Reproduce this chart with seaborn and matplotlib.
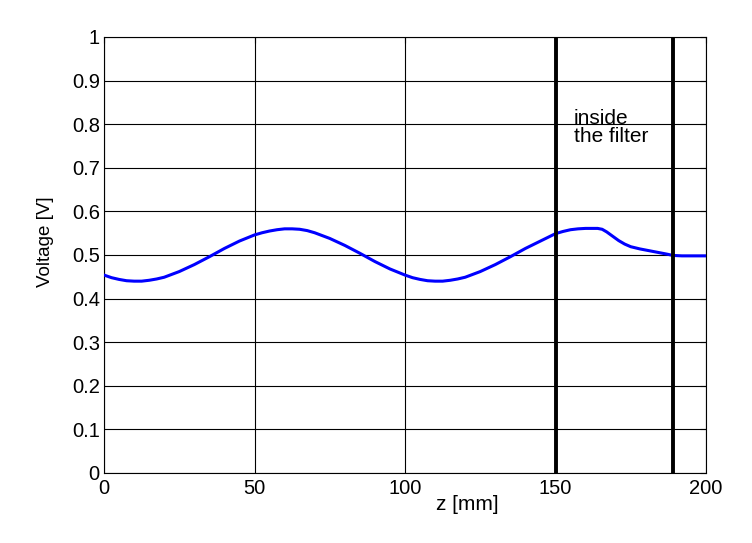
import matplotlib
matplotlib.use("Agg")
import matplotlib.pyplot as plt
import seaborn as sns
import pandas as pd

z_mm = [0, 2.5, 5, 7.5, 10, 12.5, 15, 17.5, 20, 25, 30, 35, 40, 45, 50, 52.5, 55, 57.5,
        60, 62.5, 65, 67.5, 70, 75, 80, 85, 90, 95, 100, 102.5, 105, 107.5, 110, 112.5,
        115, 117.5, 120, 125, 130, 135, 140, 145, 150, 152.5, 155, 157.5, 160, 162, 164,
        165.5, 167, 169, 171, 173, 175, 178, 181, 184, 187, 189, 192, 196, 200]
voltage = [0.454, 0.448, 0.444, 0.441, 0.440, 0.440, 0.442, 0.445, 0.449, 0.462, 0.478,
           0.496, 0.515, 0.532, 0.546, 0.551, 0.555, 0.558, 0.560, 0.560, 0.559, 0.556,
           0.551, 0.538, 0.522, 0.504, 0.485, 0.468, 0.454, 0.448, 0.444, 0.441, 0.440,
           0.440, 0.442, 0.445, 0.449, 0.462, 0.478, 0.496, 0.515, 0.532, 0.549, 0.554,
           0.558, 0.560, 0.561, 0.561, 0.561, 0.559, 0.553, 0.543, 0.533, 0.525, 0.519,
           0.514, 0.510, 0.506, 0.502, 0.499, 0.498, 0.498, 0.498]
filter_edges = [150, 189]
xticks = [0, 50, 100, 150, 200]
yticks = [0, 0.1, 0.2, 0.3, 0.4, 0.5, 0.6, 0.7, 0.8, 0.9, 1]
ytick_labels = ["0", "0.1", "0.2", "0.3", "0.4", "0.5", "0.6", "0.7", "0.8", "0.9", "1"]

sns.set_style("white")
plt.rcParams["font.family"] = ["Liberation Sans", "DejaVu Sans"]
plt.rcParams["text.color"] = "black"

fig = plt.figure(figsize=(7.52, 5.43), dpi=100)
ax = fig.add_axes([104 / 752, 70 / 543, 602 / 752, 436 / 543])

df = pd.DataFrame({"z": z_mm, "v": voltage})
sns.lineplot(data=df, x="z", y="v", ax=ax, color="#0000ff", linewidth=2.2, zorder=3)

for xe in filter_edges:
    ax.axvline(xe, color="black", linewidth=2.8, zorder=4)

ax.set_xlim(0, 200)
ax.set_ylim(0, 1)
ax.set_xticks(xticks)
ax.set_xticklabels([str(t) for t in xticks])
ax.set_yticks(yticks)
ax.set_yticklabels(ytick_labels)
ax.grid(True, color="black", linewidth=0.8, linestyle="-")
ax.set_axisbelow(True)
for s in ax.spines.values():
    s.set_color("black")
    s.set_linewidth(0.8)
ax.tick_params(direction="in", length=4, width=0.8, colors="black", labelsize=14.5,
               top=True, right=True, pad=3)
ax.tick_params(axis="x", pad=4)

ax.set_xlabel("z [mm]", fontsize=15, color="black")
ax.set_ylabel("Voltage [V]", fontsize=13.5, color="black")
ax.xaxis.set_label_coords(0.603, -0.05)
ax.yaxis.set_label_coords(-0.083, 0.53)

ax.text(156, 0.835, "inside\nthe filter", fontsize=15, ha="left", va="top",
        linespacing=0.95, zorder=5, color="black")

fig.savefig("out.png", dpi=100)
